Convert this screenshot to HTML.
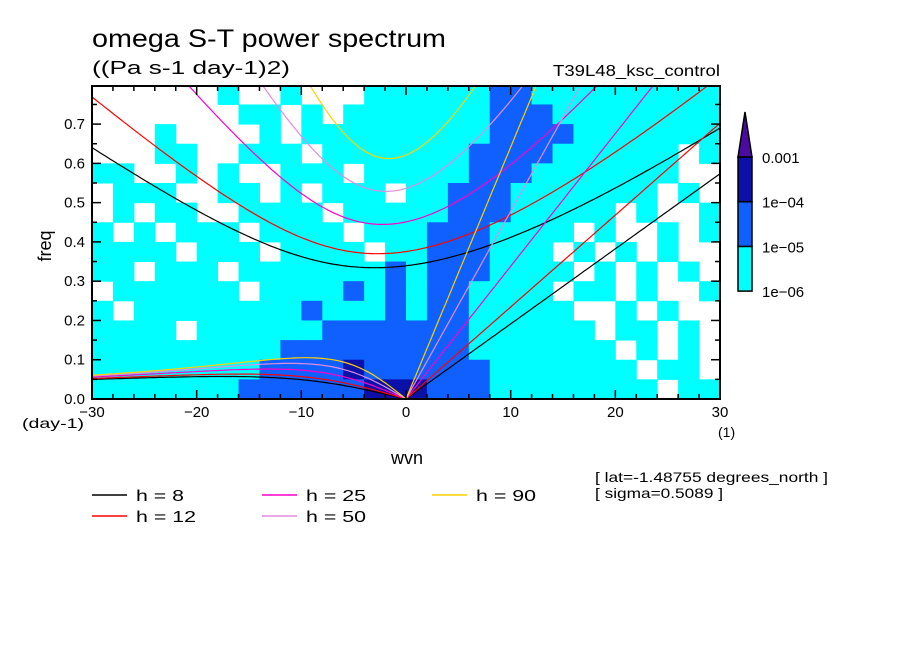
<!DOCTYPE html>
<html><head><meta charset="utf-8"><style>
body{margin:0;background:#fff;}
svg text{font-family:"Liberation Sans","DejaVu Sans",sans-serif;fill:#000;}
</style></head><body>
<svg id="chart" width="904" height="654" viewBox="0 0 904 654" xmlns="http://www.w3.org/2000/svg">
<rect width="904" height="654" fill="#fff"/>
<g id="cells"></g>
<g id="curves"></g>
<g id="axes"></g>
<text x="92" y="47" font-size="25" textLength="354" lengthAdjust="spacingAndGlyphs">omega S-T power spectrum</text>
<text x="92" y="74" font-size="18" textLength="198" lengthAdjust="spacingAndGlyphs">((Pa s-1 day-1)2)</text>
<text x="553" y="76" font-size="16" textLength="167" lengthAdjust="spacingAndGlyphs">T39L48_ksc_control</text>
<text x="51" y="246" font-size="18" transform="rotate(-90 51 246)" text-anchor="middle">freq</text>
<text x="407" y="464" font-size="18" text-anchor="middle">wvn</text>
<text x="22" y="428" font-size="14" textLength="62" lengthAdjust="spacingAndGlyphs">(day-1)</text>
<text x="718" y="437" font-size="14">(1)</text>
<text x="595" y="482" font-size="14" textLength="233" lengthAdjust="spacingAndGlyphs">[ lat=-1.48755 degrees_north ]</text>
<text x="595" y="498" font-size="14" textLength="128" lengthAdjust="spacingAndGlyphs">[ sigma=0.5089 ]</text>
<g id="legend"></g>
<g id="cbar"></g>
</svg>
<script>
const NS="http://www.w3.org/2000/svg";
const svg=document.getElementById('chart');
function mk(tag,attrs,parent){const e=document.createElementNS(NS,tag);for(const k in attrs)e.setAttribute(k,attrs[k]);parent.appendChild(e);return e;}
// ---- data ----
const xTicks=[-30,-20,-10,0,10,20,30];
const yTicks=[0,0.1,0.2,0.3,0.4,0.5,0.6,0.7];
const depths=[8,12,25,50,90];
const depthColors=["#000000","#ff0000","#ff00c8","#e08ce0","#ffd200"];
const levelColors=["#ffffff","#00ffff","#1060ff","#0a10a8","#4b0aa0"];
const levelLabels=["1e-06","1e-05","1e-04","0.001"];
const gridRows=[
"000000100100011111122111111111",
"000000011010111111122211111111",
"000100001011111111122221111111",
"000110011101111111222211111101",
"110010100111011111222111111100",
"011100110101110112221111111010",
"010110011110111112221111101001",
"101011101111011122211110100101",
"111101110111101122211101010100",
"110111011111112122211110101010",
"011111101111212122111101101001",
"101111111121112122111110010100",
"111101111112222222111111011010",
"111111111222222222111111101010",
"111111112222322222211111110110",
"111111122222233322211111111011"];
// ---- axes ----
const X0=92,X1=720,Y0=399,Y1=86,kMin=-30,kMax=30,fMax=0.797;
const sx=k=>X0+(k-kMin)/(kMax-kMin)*(X1-X0);
const sy=f=>Y0-f/fMax*(Y0-Y1);
// heatmap
const cg=document.getElementById('cells');
const nR=gridRows.length,nC=gridRows[0].length;
for(let r=0;r<nR;r++)for(let c=0;c<nC;c++){
 const lv=+gridRows[r][c]; if(lv===0)continue;
 const k0=kMin+c*(kMax-kMin)/nC,k1=k0+(kMax-kMin)/nC;
 const f1=0.8-r*0.05,f0=f1-0.05;
 const y0=Math.max(sy(f1),Y1);
 const e=mk('rect',{x:sx(k0),y:y0,width:sx(k1)-sx(k0)+0.5,height:sy(f0)-y0+0.5,fill:levelColors[lv]},cg);
 
 
}
// dispersion curves
const R=6.371e6,g=9.81,beta=2.29e-11,day=86400;
function solveIG(k){let w=Math.sqrt(k*k+3)+1;for(let i=0;i<60;i++){const f=w*w*w-(k*k+3)*w-k,d=3*w*w-(k*k+3);w-=f/d;}return w;}
function solveER(k){let w=-k/(k*k+3);for(let i=0;i<60;i++){const f=w*w*w-(k*k+3)*w-k,d=3*w*w-(k*k+3);w-=f/d;}return w;}
const cv=document.getElementById('curves');
const clip=mk('clipPath',{id:'pc'},cv);
mk('rect',{x:X0,y:Y1,width:X1-X0,height:Y0-Y1},clip);
depths.forEach((h,i)=>{
 const c=Math.sqrt(g*h),L=Math.sqrt(c/beta),T=Math.sqrt(beta*c);
 const toF=w=>w*T*day/(2*Math.PI);
 const kel=[],ig=[],er=[];
 for(let s=kMin;s<=kMax+1e-9;s+=0.25){
  const kn=s/R*L;
  ig.push([sx(s),sy(toF(solveIG(kn)))]);
  if(s>=0)kel.push([sx(s),sy(toF(kn))]);
  if(s<=0)er.push([sx(s),sy(toF(solveER(kn)))]);
 }
 [['kelvin',kel],['ig1',ig],['er1',er]].forEach(([nm,pts])=>{
  const p=mk('polyline',{points:pts.map(q=>q[0].toFixed(1)+','+q[1].toFixed(1)).join(' '),fill:'none',stroke:depthColors[i],'stroke-width':1.2,'clip-path':'url(#pc)'},cv);
  
  
 });
});
// axes frame and ticks
const ax=document.getElementById('axes');
mk('rect',{x:X0,y:Y1,width:X1-X0,height:Y0-Y1,fill:'none',stroke:'#000','stroke-width':2},ax);
for(let k=-30;k<=30;k+=2){const big=k%10===0,l=big?9:5;
 mk('line',{x1:sx(k),y1:Y0,x2:sx(k),y2:Y0-l,stroke:'#000','stroke-width':1.5},ax);
 mk('line',{x1:sx(k),y1:Y1,x2:sx(k),y2:Y1+l,stroke:'#000','stroke-width':1.5},ax);}
for(let j=0;j<=15;j++){const f=j*0.05,l=j%2===0?9:5;
 mk('line',{x1:X0,y1:sy(f),x2:X0+l,y2:sy(f),stroke:'#000','stroke-width':1.5},ax);
 mk('line',{x1:X1,y1:sy(f),x2:X1-l,y2:sy(f),stroke:'#000','stroke-width':1.5},ax);}
xTicks.forEach(k=>{const t=mk('text',{x:sx(k),y:417,'font-size':15,'text-anchor':'middle'},ax);t.textContent=(k<0?'\u2212'+(-k):k);
 });
yTicks.forEach(f=>{const t=mk('text',{x:85,y:sy(f)+5,'font-size':15,'text-anchor':'end'},ax);t.textContent=f.toFixed(1);
 });
// legend
const lg=document.getElementById('legend');
const lpos=[[92,495],[92,516],[262,495],[262,516],[432,495]];
depths.forEach((h,i)=>{const [x,y]=lpos[i];
 const l=mk('line',{x1:x,y1:y,x2:x+35,y2:y,stroke:depthColors[i],'stroke-width':1.5},lg);
 
 const t=mk('text',{x:x+44,y:y+6,'font-size':16,'xml:space':'preserve',textLength:(h<10?48:60),lengthAdjust:'spacingAndGlyphs'},lg);t.textContent='h = '+(h<10?' ':'')+h;
 });
// colorbar
const cb=document.getElementById('cbar');
const bx=738,bw=14,bTop=157,bh=44.7;
for(let i=0;i<3;i++){const r=mk('rect',{x:bx,y:bTop+(2-i)*bh,width:bw,height:bh,fill:levelColors[i+1],stroke:'#000','stroke-width':1.5},cb);
 }
const tri=mk('polygon',{points:`${bx},${bTop} ${bx+bw},${bTop} ${bx+bw/2},${112}`,fill:levelColors[4],stroke:'#000','stroke-width':1.5},cb);

levelLabels.forEach((s,i)=>{const t=mk('text',{x:762,y:bTop+(3-i)*bh+6,'font-size':15},cb);t.textContent=s.replace('-','\u2212');
 });
</script>
</body></html>
